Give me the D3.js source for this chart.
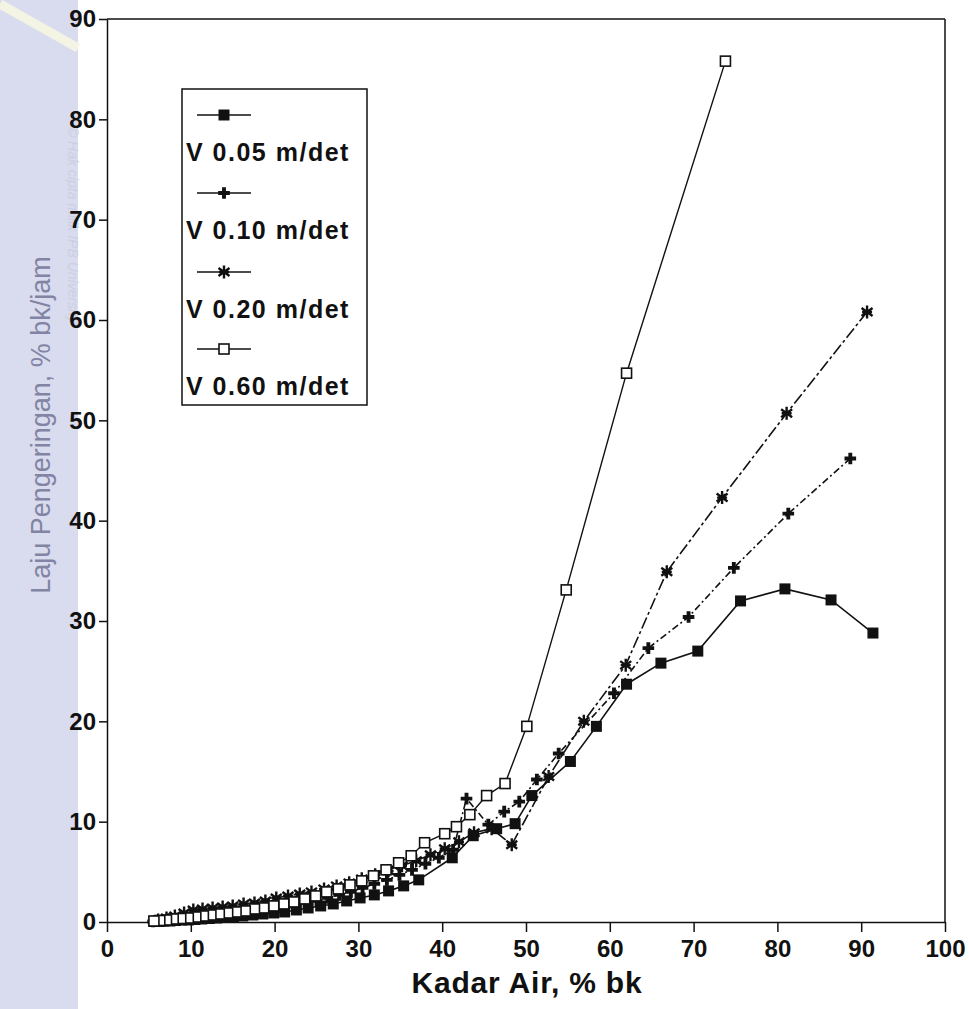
<!DOCTYPE html>
<html>
<head>
<meta charset="utf-8">
<script src="https://cdn.jsdelivr.net/npm/d3@7"></script>
<style>
	body { margin:0; background:#fff; }
	svg { display:block; }
	text { font-family:"Liberation Sans", Arial, Helvetica, sans-serif; }
</style>
</head>
<body>
<div id="mainWrapper"><svg width="969" height="1009"></svg></div>
<script>

// V 0.05 m/det (kotak hitam)
var kadar005 = [91.4, 86.4, 80.9, 75.6, 70.5, 66.1, 62.0, 58.4, 55.3, 50.7, 48.7, 46.5, 43.7, 41.2, 37.2,
	35.4, 33.6, 31.9, 30.2, 28.6, 27.0, 25.5, 24.0, 22.6, 21.2, 19.9, 18.6, 17.4, 16.2, 15.1, 14.1,
	13.1, 12.2, 11.3, 10.5, 9.7, 8.9, 8.2, 7.5, 6.8, 6.2, 5.6];
var laju005 = [28.8, 32.1, 33.2, 32.0, 27.0, 25.8, 23.7, 19.5, 16.0, 12.6, 9.8, 9.3, 8.6, 6.4, 4.2,
	3.6, 3.1, 2.7, 2.4, 2.1, 1.8, 1.6, 1.4, 1.2, 1.0, 0.9, 0.8, 0.7, 0.6, 0.5, 0.45,
	0.4, 0.35, 0.3, 0.25, 0.2, 0.2, 0.15, 0.1, 0.1, 0.05, 0.05];

// V 0.10 m/det (plus)
var kadar010 = [88.7, 81.3, 74.8, 69.4, 64.6, 60.5, 53.9, 51.3, 49.2, 47.4, 45.5, 42.9,
	41.3, 39.6, 38.0, 36.4, 34.9, 33.4, 31.9, 30.5, 29.1, 27.7, 26.3, 25.0, 23.7, 22.4, 21.2, 20.0,
	18.8, 17.6, 16.5, 15.4, 14.3, 13.3, 12.3, 11.3, 10.4, 9.5, 8.6, 7.8, 7.0, 6.2, 5.5];
var laju010 = [46.2, 40.7, 35.3, 30.4, 27.3, 22.8, 16.8, 14.2, 12.0, 11.0, 9.7, 12.3,
	7.2, 6.4, 5.8, 5.2, 4.7, 4.2, 3.8, 3.4, 3.0, 2.7, 2.4, 2.1, 1.9, 1.7, 1.5, 1.3,
	1.2, 1.0, 0.9, 0.8, 0.7, 0.6, 0.5, 0.4, 0.35, 0.3, 0.25, 0.2, 0.15, 0.1, 0.05];

// V 0.20 m/det (bintang)
var kadar020 = [90.7, 81.1, 73.4, 66.8, 61.9, 56.9, 52.7, 48.3, 45.9,
	43.8, 42.0, 40.3, 38.6, 36.9, 35.2, 33.6, 32.0, 30.4, 28.9, 27.4, 25.9, 24.4, 23.0, 21.6, 20.2,
	18.9, 17.6, 16.3, 15.0, 13.8, 12.6, 11.4, 10.3, 9.2, 8.1, 7.1, 6.1];
var laju020 = [60.8, 50.7, 42.3, 34.9, 25.6, 20.0, 14.5, 7.7, 9.3,
	8.9, 8.0, 7.3, 6.7, 6.1, 5.6, 5.1, 4.7, 4.3, 3.9, 3.6, 3.3, 3.0, 2.8, 2.6, 2.4,
	2.1, 1.9, 1.8, 1.6, 1.5, 1.4, 1.3, 1.2, 0.9, 0.6, 0.4, 0.2];

// V 0.60 m/det (kotak putih)
var kadar060 = [73.8, 62.0, 54.8, 50.1, 47.5, 45.3, 43.3, 41.7, 40.3, 37.9,
	36.3, 34.8, 33.3, 31.8, 30.4, 29.0, 27.6, 26.2, 24.9, 23.6, 22.3, 21.1, 19.9, 18.7, 17.6,
	16.5, 15.4, 14.4, 13.4, 12.4, 11.5, 10.6, 9.7, 8.8, 7.9, 7.1, 6.3, 5.6];
var laju060 = [85.8, 54.7, 33.1, 19.5, 13.8, 12.6, 10.7, 9.5, 8.8, 7.9,
	6.6, 5.9, 5.2, 4.6, 4.1, 3.7, 3.3, 3.0, 2.6, 2.3, 2.0, 1.8, 1.6, 1.4, 1.3,
	1.1, 1.0, 0.9, 0.8, 0.7, 0.6, 0.5, 0.4, 0.35, 0.3, 0.2, 0.15, 0.1];

var seriesNames = ["V 0.05 m/det", "V 0.10 m/det", "V 0.20 m/det", "V 0.60 m/det"];
var xTicks = [0, 10, 20, 30, 40, 50, 60, 70, 80, 90, 100];
var yTicks = [0, 10, 20, 30, 40, 50, 60, 70, 80, 90];
var xTitle = "Kadar Air, % bk";
var yTitle = "Laju Pengeringan, % bk/jam";

var svg = d3.select("#mainWrapper>svg");

//pita watermark kiri
svg.append("rect")
	.attr("x", 0).attr("y", 0)
	.attr("width", 78).attr("height", 1009)
	.attr("fill", "#d9dbee");
svg.append("line")
	.attr("x1", 0).attr("y1", 4)
	.attr("x2", 78).attr("y2", 48)
	.attr("stroke", "#f3f4e4")
	.attr("stroke-width", 9);
svg.append("text")
	.attr("transform", "translate(68,225) rotate(90)")
	.attr("text-anchor", "middle")
	.attr("font-size", "14px")
	.attr("font-style", "italic")
	.attr("fill", "#cdcfe3")
	.text("© Hak cipta milik IPB University");

var x = d3.scaleLinear().domain([0, 100]).range([107, 945]);
var y = d3.scaleLinear().domain([0, 90]).range([922, 19]);

//bingkai
svg.append("line")
	.attr("x1", x(0)).attr("y1", y(90)).attr("x2", x(100)).attr("y2", y(90))
	.attr("stroke", "#111").attr("stroke-width", 1.5);
svg.append("line")
	.attr("x1", x(100)).attr("y1", y(90)).attr("x2", x(100)).attr("y2", y(0))
	.attr("stroke", "#111").attr("stroke-width", 1.5);

//sumbu
var gx = svg.append("g")
	.attr("transform", "translate(0," + y(0) + ")")
	.call(d3.axisBottom(x).tickValues(xTicks).tickSize(10).tickPadding(8).tickSizeOuter(0));
var gy = svg.append("g")
	.attr("transform", "translate(" + x(0) + ",0)")
	.call(d3.axisLeft(y).tickValues(yTicks).tickSize(8).tickPadding(3).tickSizeOuter(0));

[gx, gy].forEach(function(g){
	g.select(".domain").attr("stroke", "#111").attr("stroke-width", 1.5);
	g.selectAll(".tick line").attr("stroke", "#111").attr("stroke-width", 1.5);
	g.selectAll(".tick text")
		.attr("fill", "#111")
		.attr("font-size", "24px")
		.attr("font-weight", "bold")
		.attr("font-family", "'Liberation Sans', Arial, sans-serif");
});

svg.append("text")
	.attr("x", (x(0) + x(100)) / 2 + 1)
	.attr("y", 993)
	.attr("text-anchor", "middle")
	.attr("font-size", "30px")
	.attr("font-weight", "bold")
	.attr("letter-spacing", "0.8px")
	.attr("fill", "#111")
	.text(xTitle);

svg.append("text")
	.attr("transform", "translate(50,425) rotate(-90)")
	.attr("text-anchor", "middle")
	.attr("font-size", "27px")
	.attr("fill", "#8184a3")
	.text(yTitle);

//data seri
var series = [
	{ name: seriesNames[0], kadar: kadar005, laju: laju005, mark: "filledSquare", dash: null },
	{ name: seriesNames[1], kadar: kadar010, laju: laju010, mark: "plus", dash: "7,3,2,3" },
	{ name: seriesNames[2], kadar: kadar020, laju: laju020, mark: "star", dash: "12,3,3,3" },
	{ name: seriesNames[3], kadar: kadar060, laju: laju060, mark: "openSquare", dash: null }
];

var line = d3.line()
	.x(function(d){ return x(d[0]); })
	.y(function(d){ return y(d[1]); });

function pairs(s) {
	return s.kadar.map(function(k, i){ return [k, s.laju[i]]; });
}

var lines = svg.append("g");
series.forEach(function(s){
	lines.append("path")
		.datum(pairs(s))
		.attr("d", line)
		.attr("fill", "none")
		.attr("stroke", "#111")
		.attr("stroke-width", s.mark == "openSquare" ? 1.4 : 1.6)
		.attr("stroke-dasharray", s.dash);
});

function drawMark(g, type) {
	switch(type){
		case "filledSquare":
			g.append("rect").attr("x", -5.5).attr("y", -5.5).attr("width", 11).attr("height", 11)
				.attr("fill", "#111");
			break;
		case "openSquare":
			g.append("rect").attr("x", -5).attr("y", -5).attr("width", 10).attr("height", 10)
				.attr("fill", "#fff").attr("stroke", "#111").attr("stroke-width", 1.6);
			break;
		case "plus":
			g.append("path").attr("d", d3.symbol().type(d3.symbolCross).size(75)())
				.attr("fill", "#111");
			break;
		case "star":
			g.append("path").attr("d", "M0,-6.5V6.5M-5.5,-4L5.5,4M-5.5,4L5.5,-4M-5,0H5")
				.attr("stroke", "#111").attr("stroke-width", 2.4).attr("fill", "none");
			break;
	}
}

var marks = svg.append("g");
series.forEach(function(s){
	marks.selectAll(null)
		.data(pairs(s))
		.enter()
		.append("g")
		.attr("transform", function(d){
			return "translate(" + x(d[0]) + "," + y(d[1]) + ")";
		})
		.each(function(){ drawMark(d3.select(this), s.mark); });
});

//legenda
var legend = svg.append("g");
legend.append("rect")
	.attr("x", 182).attr("y", 89)
	.attr("width", 185).attr("height", 316)
	.attr("fill", "#fff")
	.attr("stroke", "#111")
	.attr("stroke-width", 1.5);

var legendY = [115, 193, 272, 349];
series.forEach(function(s, i){
	legend.append("line")
		.attr("x1", 197).attr("x2", 251)
		.attr("y1", legendY[i]).attr("y2", legendY[i])
		.attr("stroke", "#111").attr("stroke-width", 1.6);
	drawMark(legend.append("g").attr("transform", "translate(224," + legendY[i] + ")"), s.mark);
	legend.append("text")
		.attr("x", 186)
		.attr("y", legendY[i] + 46)
		.attr("font-size", "25px")
		.attr("font-weight", "bold")
		.attr("letter-spacing", "1.5px")
		.attr("fill", "#111")
		.text(s.name);
});

</script>
</body>
</html>
